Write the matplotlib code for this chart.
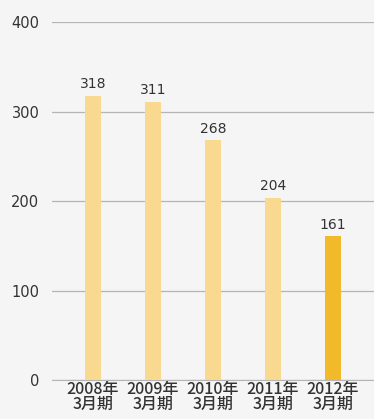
import matplotlib
matplotlib.use("Agg")
import matplotlib.pyplot as plt

plt.rcParams["font.family"] = ["DejaVu Sans", "Noto Sans CJK JP"]

years = ["2008年\n3月期", "2009年\n3月期", "2010年\n3月期", "2011年\n3月期", "2012年\n3月期"]
values = [318, 311, 268, 204, 161]
colors = ["#f8d98f", "#f8d98f", "#f8d98f", "#f8d98f", "#f2b92b"]
yticks = [0, 100, 200, 300, 400]

fig = plt.figure(figsize=(3.74, 4.19), dpi=100)
fig.patch.set_facecolor("#f5f5f5")
ax = fig.add_axes([0.139, 0.093, 0.861, 0.854])
ax.set_facecolor("#f5f5f5")

xs = list(range(len(values)))
ax.bar(xs, values, width=0.28, color=colors, zorder=3)
for x, v in zip(xs, values):
    ax.text(x, v + 5, str(v), ha="center", va="bottom", fontsize=10,
            color="#333333")

ax.set_xlim(-0.683, 4.683)
ax.set_ylim(0, 400)
ax.set_yticks(yticks)
ax.set_yticklabels([str(t) for t in yticks], fontsize=10.5, color="#333333")
ax.yaxis.grid(True, color="#b5b5b5", linewidth=0.9, zorder=0)
ax.tick_params(axis="y", length=0, pad=9)
ax.set_xticks(xs)
ax.set_xticklabels(years, fontsize=11.5, color="#333333",
                   family=["Noto Sans CJK JP"], fontweight="medium", linespacing=0.8)
ax.tick_params(axis="x", length=0, pad=1)
for s in ["top", "right", "left"]:
    ax.spines[s].set_visible(False)
ax.spines["bottom"].set_color("#b5b5b5")

fig.savefig("out.png", dpi=100, facecolor=fig.get_facecolor())
